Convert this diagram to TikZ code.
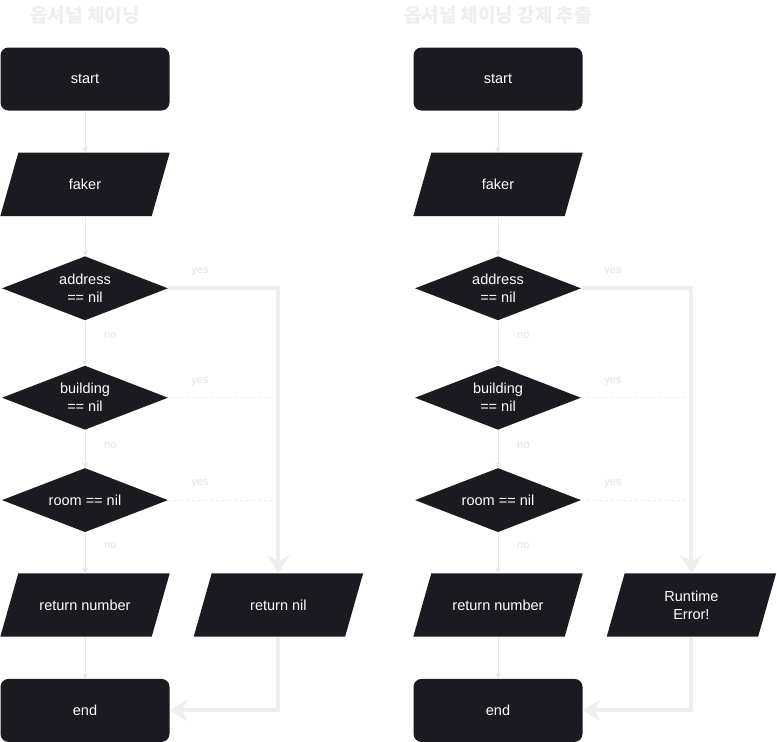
\documentclass[tikz,border=0pt]{standalone}
\usepackage{fontspec}
\setmainfont{Liberation Sans}
\newfontfamily\krfont{Noto Sans CJK KR}
\usetikzlibrary{shapes.geometric,positioning,arrows.meta,backgrounds}
\definecolor{boxfill}{HTML}{1B1A20}
\definecolor{flowline}{HTML}{E6E6E6}
\definecolor{yesline}{HTML}{EEEEEE}
\definecolor{labelgray}{HTML}{E2E2E2}
\tikzset{
  boxtext/.style={text=white,align=center,font=\fontsize{14.5}{18}\selectfont},
  terminal/.style={boxtext,fill=boxfill,rounded corners=8pt,minimum width=169pt,minimum height=63pt},
  io/.style={boxtext,inner sep=0pt,minimum width=151pt,minimum height=63pt},
  decision/.style={boxtext,diamond,aspect=2.6,fill=boxfill,inner sep=0pt,minimum width=166pt,minimum height=64pt},
  flow/.style={draw=flowline,line width=0.8pt,-{Stealth[length=6pt,width=6pt,inset=2pt]}},
  yespath/.style={draw=yesline,line width=4pt,-{Stealth[length=18pt,width=22pt,inset=6pt]}},
  yesdash/.style={draw=yesline,line width=0.8pt,dash pattern=on 3pt off 3pt},
  branch/.style={text=labelgray,inner sep=0pt,font=\fontsize{11}{13}\selectfont},
  heading/.style={text=yesline,font=\krfont\bfseries\fontsize{19}{22}\selectfont}
}
\begin{document}
\begin{tikzpicture}[x=1pt,y=1pt]
  \useasboundingbox (0,0) rectangle (777,-742);
  \foreach \c/\x/\title/\fail in {l/85/{옵셔널 체이닝}/{return nil}, r/498/{옵셔널 체이닝 강제 추출}/{Runtime\\Error!}}{
    \node[heading] (title-\c) at (\x,-15) {\title};
    \node[terminal] (start-\c) at (\x,-79) {start};
    \node[io, below=42pt of start-\c] (faker-\c) {faker};
    \node[decision, below=40pt of faker-\c] (address-\c) {address\\== nil};
    \node[decision, below=45pt of address-\c] (building-\c) {building\\== nil};
    \node[decision, below=38pt of building-\c] (room-\c) {room == nil};
    \node[io, below=41pt of room-\c] (number-\c) {return number};
    \node[terminal, below=42pt of number-\c] (end-\c) {end};
    \node[io, right=42pt of number-\c] (fail-\c) {\fail};
    % slanted input/output boxes
    \begin{scope}[on background layer]
      \foreach \n in {faker,number,fail}
        \fill[boxfill] ([xshift=-9pt]\n-\c.south west) -- ([xshift=-9pt]\n-\c.south east)
          -- ([xshift=9pt]\n-\c.north east) -- ([xshift=9pt]\n-\c.north west) -- cycle;
    \end{scope}
    % main flow
    \draw[flow] (start-\c) -- (faker-\c);
    \draw[flow] (faker-\c) -- (address-\c);
    \draw[flow] (address-\c) -- (building-\c);
    \draw[flow] (building-\c) -- (room-\c);
    \draw[flow] (room-\c) -- (number-\c);
    \draw[flow] (number-\c) -- (end-\c);
    % yes branches
    \draw[yespath] (address-\c.east) -| (fail-\c.north);
    \draw[yesdash] (building-\c.east) -- (building-\c.east -| fail-\c.north);
    \draw[yesdash] (room-\c.east) -- (room-\c.east -| fail-\c.north);
    \draw[yespath] (fail-\c.south) |- (end-\c.east);
    \node[branch, above right=12pt and 23pt of address-\c.east] (yes1-\c) {yes};
    \node[branch, above right=12pt and 23pt of building-\c.east] (yes2-\c) {yes};
    \node[branch, above right=12pt and 23pt of room-\c.east] (yes3-\c) {yes};
    \node[branch, below right=12pt and 19pt of address-\c.south] (no1-\c) {no};
    \node[branch, below right=12pt and 19pt of building-\c.south] (no2-\c) {no};
    \node[branch, below right=10pt and 19pt of room-\c.south] (no3-\c) {no};
  }
\end{tikzpicture}
\end{document}
